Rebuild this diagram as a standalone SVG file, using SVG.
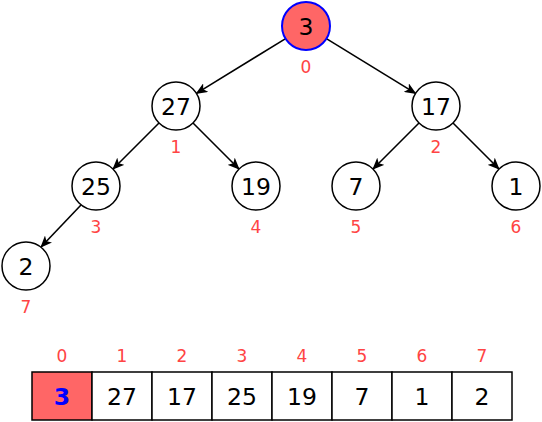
<svg xmlns="http://www.w3.org/2000/svg" width="542" height="422" viewBox="0 0 542 422">
<style>
.n{fill:#fff;stroke:#000;stroke-width:1.5}
.r{fill:#FF6666;stroke:#0000FF;stroke-width:2}
.t{font-family:"DejaVu Sans",Verdana,sans-serif;font-size:23.5px;text-anchor:middle;dominant-baseline:central;fill:#000}
.i{font-family:"DejaVu Sans",Verdana,sans-serif;font-size:17px;text-anchor:middle;dominant-baseline:central;fill:#FF4444}
.e{stroke:#000;stroke-width:1.6;fill:none;marker-end:url(#a)}
.c{fill:#fff;stroke:#000;stroke-width:1.5}
</style>
<defs>
<marker id="a" viewBox="0 0 12 10" refX="11" refY="5" markerWidth="12" markerHeight="10" orient="auto" markerUnits="userSpaceOnUse">
<path d="M0,0 L12,5 L0,10 L3,5 Z" fill="#000"/>
</marker>
</defs>
<g id="edges">
<line class="e" x1="285.6" y1="38.6" x2="196.4" y2="93.4"/>
<line class="e" x1="326.4" y1="38.6" x2="415.6" y2="93.4"/>
<line class="e" x1="159" y1="123" x2="113" y2="169"/>
<line class="e" x1="193" y1="123" x2="239" y2="169"/>
<line class="e" x1="419" y1="123" x2="373" y2="169"/>
<line class="e" x1="453" y1="123" x2="499" y2="169"/>
<line class="e" x1="81" y1="205" x2="41" y2="247"/>
</g>
<g id="node0"><circle class="r" cx="306" cy="26" r="24"/><text class="t" x="306" y="27">3</text><text class="i" x="306" y="67">0</text></g>
<g id="node1"><circle class="n" cx="176" cy="106" r="24"/><text class="t" x="176" y="107">27</text><text class="i" x="176" y="147">1</text></g>
<g id="node2"><circle class="n" cx="436" cy="106" r="24"/><text class="t" x="436" y="107">17</text><text class="i" x="436" y="147">2</text></g>
<g id="node3"><circle class="n" cx="96" cy="186" r="24"/><text class="t" x="96" y="187">25</text><text class="i" x="96" y="227">3</text></g>
<g id="node4"><circle class="n" cx="256" cy="186" r="24"/><text class="t" x="256" y="187">19</text><text class="i" x="256" y="227">4</text></g>
<g id="node5"><circle class="n" cx="356" cy="186" r="24"/><text class="t" x="356" y="187">7</text><text class="i" x="356" y="227">5</text></g>
<g id="node6"><circle class="n" cx="516" cy="186" r="24"/><text class="t" x="516" y="187">1</text><text class="i" x="516" y="227">6</text></g>
<g id="node7"><circle class="n" cx="26" cy="266" r="24"/><text class="t" x="26" y="267">2</text><text class="i" x="26" y="307">7</text></g>
<g id="array">
<rect x="32" y="372" width="60" height="48" fill="#FF6666" stroke="#000" stroke-width="1.5"/>
<rect class="c" x="92" y="372" width="60" height="48"/>
<rect class="c" x="152" y="372" width="60" height="48"/>
<rect class="c" x="212" y="372" width="60" height="48"/>
<rect class="c" x="272" y="372" width="60" height="48"/>
<rect class="c" x="332" y="372" width="60" height="48"/>
<rect class="c" x="392" y="372" width="60" height="48"/>
<rect class="c" x="452" y="372" width="60" height="48"/>
<text class="t" x="62" y="397" style="fill:#0000FF;font-weight:bold">3</text>
<text class="t" x="122" y="397">27</text>
<text class="t" x="182" y="397">17</text>
<text class="t" x="242" y="397">25</text>
<text class="t" x="302" y="397">19</text>
<text class="t" x="362" y="397">7</text>
<text class="t" x="422" y="397">1</text>
<text class="t" x="482" y="397">2</text>
<text class="i" x="62" y="356">0</text>
<text class="i" x="122" y="356">1</text>
<text class="i" x="182" y="356">2</text>
<text class="i" x="242" y="356">3</text>
<text class="i" x="302" y="356">4</text>
<text class="i" x="362" y="356">5</text>
<text class="i" x="422" y="356">6</text>
<text class="i" x="482" y="356">7</text>
</g>
</svg>
